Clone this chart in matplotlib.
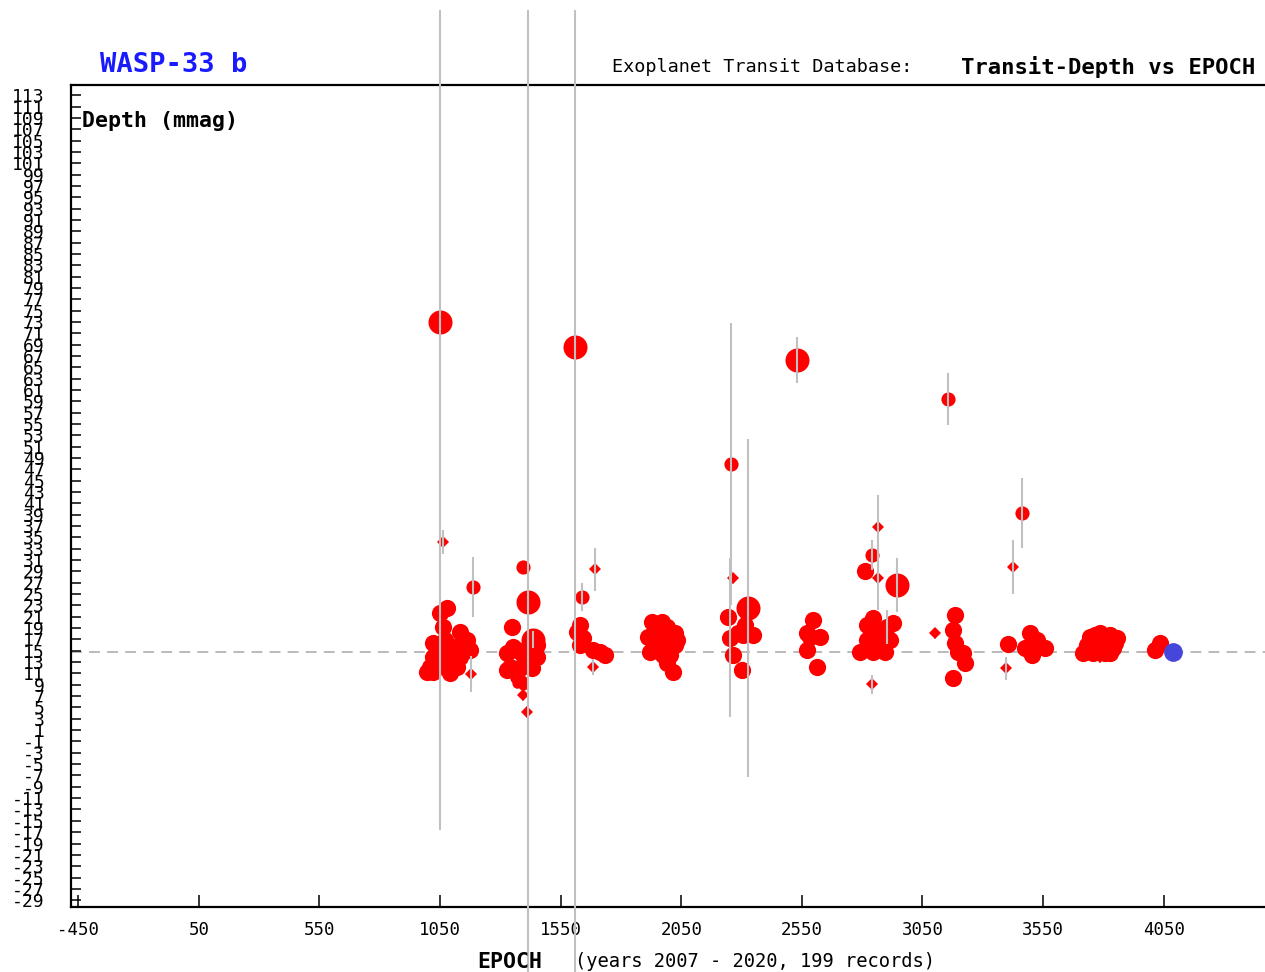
import matplotlib
matplotlib.use("Agg")
import matplotlib.pyplot as plt
from matplotlib.patches import Rectangle

# ---------------- data ----------------
# size class: 1 = large circle, 2 = normal circle, 3 = small circle, 4 = tiny circle, 5 = diamond
epoch = [
    # cluster ~1000-1190
    1050, 1062, 1187, 1179,
    1079, 1050, 1062, 1133, 1162, 1021, 1104, 1162, 1021, 1079, 1133, 1021, 1091,
    1008, 1120, 996, 1038, 1145, 1071, 1050, 1112, 1174,
    # cluster ~1330-1450
    1394, 1415, 1436, 1349, 1353, 1328, 1394, 1452, 1340, 1382, 1432, 1328, 1369,
    1411, 1452, 1361, 1390, 1394, 1369, 1394, 1411,
    # cluster ~1610-1735
    1610, 1693, 1639, 1630, 1643, 1618, 1684, 1734, 1713, 1684, 1630,
    # cluster ~1890-2035
    1929, 1991, 2024, 1912, 2024, 1921, 1975, 1991, 2016, 1963, 2004, 2033, 1955,
    2004, 1971,
    # cluster ~2240-2350
    2256, 2265, 2327, 2244, 2252, 2306, 2348, 2265, 2302, 2285, 2315,
    # cluster ~2530-2630
    2530, 2596, 2572, 2626, 2572, 2613, 2584,
    # cluster ~2790-2945
    2866, 2841, 2812, 2866, 2944, 2845, 2820, 2928, 2903, 2820, 2862, 2916, 2791,
    2845, 2895, 2874, 2841,
    # cluster ~3100-3230
    3156, 3102, 3185, 3177, 3185, 3198, 3218, 3227, 3177,
    # cluster ~3400-3560
    3463, 3426, 3496, 3525, 3558, 3405, 3476, 3505, 3397,
    # cluster ~3715-3860
    3745, 3786, 3828, 3857, 3732, 3774, 3819, 3848, 3716, 3757, 3807, 3828, 3786,
    3765, 3798, 3840,
    # cluster ~4015
    4014, 4035,
]
depth = [
    73.0, 34.2, 26.2, 10.9,
    22.5, 21.6, 19.2, 18.3, 16.9, 16.4, 15.6, 15.5, 13.9, 14.6, 13.9, 11.2, 11.1,
    12.1, 12.1, 11.2, 13.9, 16.0, 16.9, 12.5, 13.4, 15.1,
    29.8, 23.6, 16.9, 19.2, 15.6, 14.6, 14.3, 13.9, 12.1, 11.9, 11.9, 11.6, 15.1,
    13.4, 16.0, 10.2, 9.8, 8.9, 9.3, 7.2, 4.2,
    68.6, 29.4, 24.5, 19.5, 17.3, 18.3, 15.1, 14.3, 14.8, 12.1, 16.0,
    20.0, 19.2, 18.1, 17.4, 16.0, 14.8, 14.3, 12.8, 11.2, 18.6, 16.9, 16.9, 16.0,
    14.3, 20.0,
    47.9, 27.8, 22.5, 20.9, 17.3, 17.8, 17.8, 14.3, 11.6, 18.1, 19.5,
    66.3, 20.4, 18.1, 17.4, 15.1, 12.1, 17.4,
    36.8, 31.9, 29.1, 27.8, 26.6, 20.8, 19.5, 19.9, 19.2, 16.9, 16.9, 16.9, 14.8,
    14.8, 14.8, 18.3, 9.1,
    59.4, 18.1, 21.3, 18.6, 16.4, 14.8, 14.6, 12.8, 10.2,
    39.3, 29.8, 18.1, 16.9, 15.5, 16.2, 15.5, 14.3, 11.9,
    17.4, 18.1, 17.8, 17.3, 16.0, 16.4, 16.4, 16.4, 14.6, 14.6, 14.6, 14.6, 13.9,
    17.8, 16.9, 15.5,
    15.1, 16.4,
]
depth_err = [
    89.6, 2.1, 5.3, 3.2,
    1.0, 1.0, 1.0, 1.0, 1.0, 1.0, 1.0, 1.0, 1.0, 1.0, 1.0, 1.0, 1.0,
    1.0, 1.0, 1.0, 1.0, 1.0, 1.0, 1.0, 1.0, 1.0,
    1.0, 110.0, 1.5, 1.0, 1.0, 1.0, 1.0, 1.0, 1.0, 1.0, 1.0, 1.0, 1.0,
    1.0, 1.0, 1.0, 1.0, 1.0, 1.0, 1.0, 1.0,
    115.0, 3.8, 2.5, 1.0, 1.0, 1.0, 1.0, 1.0, 1.0, 1.4, 1.0,
    1.0, 1.0, 1.0, 1.0, 1.0, 1.0, 1.0, 1.0, 1.0, 1.0, 1.0, 1.0, 1.0,
    1.0, 1.0,
    24.9, 1.0, 29.8, 1.0, 14.0, 1.0, 1.0, 1.0, 1.0, 1.0, 1.0,
    4.0, 1.0, 1.0, 1.0, 1.0, 1.0, 1.0,
    5.6, 2.6, 1.0, 5.6, 4.8, 1.0, 1.0, 1.0, 3.0, 1.0, 1.0, 1.0, 1.0,
    1.0, 1.0, 1.0, 1.7,
    4.6, 1.0, 1.0, 1.0, 1.0, 1.0, 1.0, 1.0, 1.0,
    6.2, 4.8, 1.0, 1.0, 1.0, 1.0, 1.0, 1.0, 2.0,
    1.0, 1.0, 1.0, 1.0, 1.0, 1.0, 1.0, 1.0, 1.0, 1.0, 1.0, 1.0, 1.0,
    1.0, 1.0, 1.0,
    1.0, 1.0,
]
quality = [
    1, 5, 3, 5,
    2, 2, 2, 2, 2, 2, 2, 2, 2, 2, 2, 2, 2,
    2, 2, 2, 2, 2, 2, 2, 2, 2,
    3, 1, 1, 2, 2, 2, 2, 2, 2, 2, 2, 2, 2,
    2, 2, 4, 4, 4, 4, 5, 5,
    1, 5, 3, 2, 2, 2, 2, 2, 2, 5, 2,
    2, 2, 2, 2, 2, 2, 2, 2, 2, 2, 2, 2, 2,
    2, 2,
    3, 5, 1, 2, 2, 2, 2, 2, 2, 2, 2,
    1, 2, 2, 2, 2, 2, 2,
    5, 3, 2, 5, 1, 2, 2, 2, 2, 2, 2, 2, 2,
    2, 2, 2, 5,
    3, 5, 2, 2, 2, 2, 2, 2, 2,
    3, 5, 2, 2, 2, 2, 2, 2, 5,
    2, 2, 2, 2, 2, 2, 2, 2, 2, 2, 2, 2, 5,
    2, 2, 2,
    2, 2,
]

# latest transit (blue)
latest_epoch = [4089]
latest_depth = [14.8]
latest_err = [1.0]

expected_depth = 14.8

x_ticks = [-450, 50, 550, 1050, 1550, 2050, 2550, 3050, 3550, 4050]
y_ticks = list(range(-29, 114, 2))

planet = "WASP-33 b"
x_note = "(years 2007 - 2020, 199 records)"

# ---------------- styling ----------------
W, H, DPI = 1265, 972, 100
MONO = ["DejaVu Sans Mono"]
RED = "#ff0000"
BLUE = "#4646dc"
GREY = "#c0c0c0"

fig = plt.figure(figsize=(W / DPI, H / DPI), dpi=DPI)
ax = fig.add_axes([71 / W, 1 - 907 / H, 1 - 71 / W, (907 - 85) / H])

ax.set_xlim(-480, 4470)
ax.set_ylim(-30.2, 114.8)

marker_spec = {
    1: ("o", 17.3),
    2: ("o", 12.4),
    3: ("o", 10.2),
    4: ("o", 7.4),
    5: ("D", 6.6),
}
for q, (mk, ms) in marker_spec.items():
    xs = [e for e, qq in zip(epoch, quality) if qq == q]
    ys = [d for d, qq in zip(depth, quality) if qq == q]
    ax.plot(xs, ys, linestyle="none", marker=mk, ms=ms, color=RED,
            mec=RED, mew=0, zorder=2)
ax.plot(latest_epoch, latest_depth, linestyle="none", marker="o", ms=13.5,
        color=BLUE, mec=BLUE, mew=0, zorder=4)

# error bars: short ones hidden under the markers, long ones drawn on top
all_x = epoch + latest_epoch
all_y = depth + latest_depth
all_e = depth_err + latest_err
clip_rect = Rectangle((0, 0), 1, 1 - 10 / H, transform=fig.transFigure)
for top_layer in (False, True):
    sel = [(x, y, e) for x, y, e in zip(all_x, all_y, all_e)
           if (e > 1.2) == top_layer]
    lc = ax.vlines([s[0] for s in sel], [s[1] - s[2] for s in sel],
                   [s[1] + s[2] for s in sel], colors=GREY, linewidth=1.5,
                   zorder=3 if top_layer else 1.5)
    lc.set_clip_path(clip_rect)

# expected depth line
ax.axhline(expected_depth, color="#b4b4b4", linewidth=1.3,
           linestyle=(0, (6, 4)), zorder=1)

# axes frame
for side in ("top", "left", "bottom"):
    ax.spines[side].set_linewidth(1.6)
    ax.spines[side].set_color("black")
ax.spines["right"].set_visible(False)

ax.set_xticks(x_ticks)
ax.set_xticklabels([str(t) for t in x_ticks], family=MONO, fontsize=12.5)
ax.set_yticks(y_ticks)
ax.set_yticklabels([str(t) for t in y_ticks], family=MONO, fontsize=13)
ax.tick_params(axis="x", direction="in", length=8.5, width=1.1, pad=10,
               colors="black", top=False)
ax.tick_params(axis="y", direction="in", length=7, width=1.1, pad=19,
               colors="black", right=False)

# texts
fig.text(100 / W, 1 - 65 / H, planet, color="#1a1aff", family=MONO,
         fontsize=19.5, fontweight="bold", ha="left", va="center")
fig.text(612 / W, 1 - 67 / H, "Exoplanet Transit Database:", family=MONO,
         fontsize=13.3, ha="left", va="center")
fig.text(961 / W, 1 - 67 / H, "Transit-Depth vs EPOCH", family=MONO,
         fontsize=16, fontweight="bold", ha="left", va="center")
fig.text(82 / W, 1 - 121 / H, "Depth (mmag)", family=MONO, fontsize=15.5,
         fontweight="bold", ha="left", va="center")
fig.text(477 / W, 1 - 962 / H, "EPOCH", family=MONO, fontsize=15.5,
         fontweight="bold", ha="left", va="center")
fig.text(575 / W, 1 - 961 / H, x_note, family=MONO, fontsize=13.5,
         ha="left", va="center")

fig.savefig("out.png", dpi=DPI)
